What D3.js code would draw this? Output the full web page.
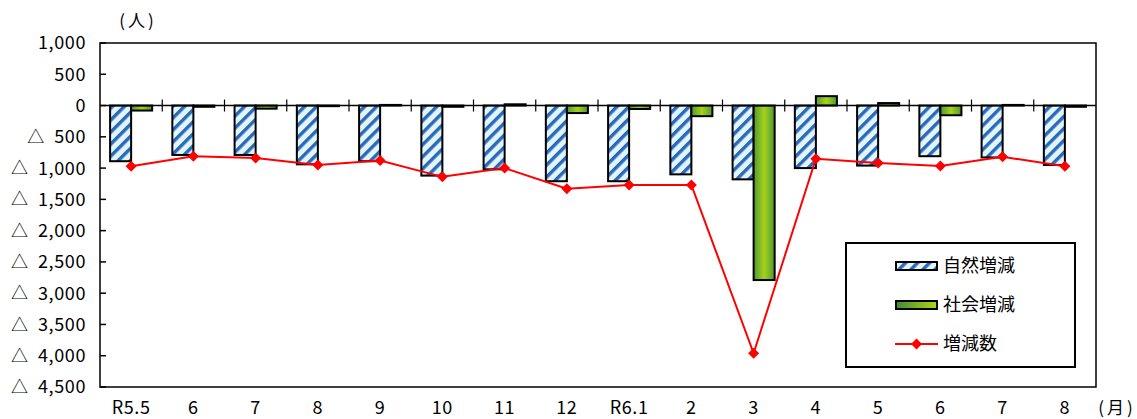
<!DOCTYPE html>
<html>
<head>
<meta charset="utf-8">
<script src="https://cdn.jsdelivr.net/npm/d3@7"></script>
<style>
  body { margin: 0; background: #fff; }
  text { font-family: "Noto Sans CJK JP", "Noto Sans", sans-serif; fill: #000; }
</style>
</head>
<body>
<svg id="chart" width="1137" height="419"></svg>
<script>
// month labels (x axis)
const categories = ["R5.5", "6", "7", "8", "9", "10", "11", "12", "R6.1", "2", "3", "4", "5", "6", "7", "8"];
// 自然増減
const natural = [-890, -790, -790, -940, -890, -1120, -1020, -1210, -1210, -1100, -1180, -1000, -960, -810, -830, -950];
// 社会増減
const social = [-80, -20, -50, -10, 10, -20, 20, -120, -55, -170, -2790, 150, 40, -155, 10, -20];
// 増減数
const total = [-970, -810, -840, -950, -880, -1140, -1000, -1330, -1270, -1270, -3960, -850, -920, -965, -820, -970];
const yTicks = [1000, 500, 0, -500, -1000, -1500, -2000, -2500, -3000, -3500, -4000, -4500];
const legendNames = ["自然増減", "社会増減", "増減数"];

const svg = d3.select("#chart");
const pLeft = 100, pRight = 1096, pTop = 43, pBottom = 387;

const x = d3.scaleBand()
  .domain(d3.range(categories.length))
  .range([pLeft, pRight])
  .padding(0);

const inner = d3.scaleBand()
  .domain(["natural", "social"])
  .range([0, x.bandwidth()])
  .paddingInner(0)
  .paddingOuter(0.48);

const y = d3.scaleLinear().domain([-4500, 1000]).range([pBottom, pTop]);

// patterns / gradients
const defs = svg.append("defs");
const pat = defs.append("pattern")
  .attr("id", "stripe")
  .attr("patternUnits", "userSpaceOnUse")
  .attr("width", 8.5)
  .attr("height", 8.5)
  .attr("patternTransform", "rotate(45)");
pat.append("rect").attr("width", 8.5).attr("height", 8.5).attr("fill", "#e2f5fc");
pat.append("rect").attr("x", 0).attr("width", 3.4).attr("height", 8.5).attr("fill", "#2a69b8");

const grad = defs.append("linearGradient")
  .attr("id", "green")
  .attr("x1", "0%").attr("x2", "100%").attr("y1", "0%").attr("y2", "0%");
grad.append("stop").attr("offset", "0%").attr("stop-color", "#4f9a33");
grad.append("stop").attr("offset", "50%").attr("stop-color", "#a7d11c");
grad.append("stop").attr("offset", "100%").attr("stop-color", "#4f9a33");

const gradL = defs.append("linearGradient")
  .attr("id", "greenLegend")
  .attr("x1", "0%").attr("x2", "100%").attr("y1", "0%").attr("y2", "0%");
gradL.append("stop").attr("offset", "0%").attr("stop-color", "#3f8a35");
gradL.append("stop").attr("offset", "100%").attr("stop-color", "#b2d615");

// frame
svg.append("rect")
  .attr("x", pLeft).attr("y", pTop)
  .attr("width", pRight - pLeft).attr("height", pBottom - pTop)
  .attr("fill", "none").attr("stroke", "#000").attr("stroke-width", 1.5);

// y ticks + labels (triangle drawn apart from the number, like the original)
const fmt = d3.format(",");
yTicks.forEach(v => {
  svg.append("line")
    .attr("x1", pLeft).attr("x2", pLeft + 6)
    .attr("y1", y(v)).attr("y2", y(v))
    .attr("stroke", "#000").attr("stroke-width", 1.5);
  const num = svg.append("text")
    .attr("x", 86).attr("y", y(v))
    .attr("dy", "0.36em")
    .attr("text-anchor", "end")
    .attr("font-size", 18)
    .attr("letter-spacing", 0.6)
    .text(fmt(Math.abs(v)));
  if (v < 0) {
    const w = num.node().getComputedTextLength();
    svg.append("text")
      .attr("x", 86 - w - 10).attr("y", y(v))
      .attr("dy", "0.36em")
      .attr("text-anchor", "end")
      .attr("font-size", 17)
      .text("△");
  }
});

// bars
const g = svg.append("g");
categories.forEach((c, i) => {
  const x0 = x(i);
  g.append("rect")
    .attr("x", x0 + inner("natural"))
    .attr("y", y(Math.max(0, natural[i])))
    .attr("width", inner.bandwidth())
    .attr("height", Math.abs(y(natural[i]) - y(0)))
    .attr("fill", "url(#stripe)")
    .attr("stroke", "#000").attr("stroke-width", 2);
  g.append("rect")
    .attr("x", x0 + inner("social"))
    .attr("y", y(Math.max(0, social[i])))
    .attr("width", inner.bandwidth())
    .attr("height", Math.abs(y(social[i]) - y(0)))
    .attr("fill", "url(#green)")
    .attr("stroke", "#000").attr("stroke-width", 2);
});

// zero line with category ticks
svg.append("line")
  .attr("x1", pLeft).attr("x2", pRight)
  .attr("y1", y(0)).attr("y2", y(0))
  .attr("stroke", "#000").attr("stroke-width", 1.5);
for (let i = 1; i < categories.length; i++) {
  svg.append("line")
    .attr("x1", x(i)).attr("x2", x(i))
    .attr("y1", y(0) - 6).attr("y2", y(0) + 6)
    .attr("stroke", "#000").attr("stroke-width", 1.2);
}

// total line
const cx = i => x(i) + x.bandwidth() / 2;
const line = d3.line().x((d, i) => cx(i)).y(d => y(d));
svg.append("path")
  .datum(total)
  .attr("d", line)
  .attr("fill", "none")
  .attr("stroke", "#ff0000")
  .attr("stroke-width", 2);

const diamond = "M0,-5.5L5.5,0L0,5.5L-5.5,0Z";
svg.selectAll("path.dot")
  .data(total)
  .enter()
  .append("path")
  .attr("class", "dot")
  .attr("d", diamond)
  .attr("transform", (d, i) => `translate(${cx(i)},${y(d)})`)
  .attr("fill", "#ff0000");

// x labels
svg.selectAll("text.xl")
  .data(categories)
  .enter()
  .append("text")
  .attr("class", "xl")
  .attr("x", (d, i) => cx(i))
  .attr("y", 414)
  .attr("text-anchor", "middle")
  .attr("font-size", 18)
  .attr("letter-spacing", 0.6)
  .text(d => d);

// unit labels
svg.append("text").attr("x", 138).attr("y", 27).attr("text-anchor", "middle")
  .attr("font-size", 17).attr("letter-spacing", 3).text("(人)");
svg.append("text").attr("x", 1117).attr("y", 414).attr("text-anchor", "middle")
  .attr("font-size", 17).attr("letter-spacing", 3).text("(月)");

// legend
const lg = svg.append("g");
lg.append("rect")
  .attr("x", 846).attr("y", 243)
  .attr("width", 229).attr("height", 124)
  .attr("fill", "#fff").attr("stroke", "#000").attr("stroke-width", 2);
const rows = [266, 305, 344];
lg.append("rect").attr("x", 896).attr("y", rows[0] - 4).attr("width", 41).attr("height", 8)
  .attr("fill", "url(#stripe)").attr("stroke", "#000").attr("stroke-width", 2);
lg.append("rect").attr("x", 896).attr("y", rows[1] - 4).attr("width", 41).attr("height", 8)
  .attr("fill", "url(#greenLegend)").attr("stroke", "#000").attr("stroke-width", 2);
lg.append("line").attr("x1", 895).attr("x2", 938).attr("y1", rows[2]).attr("y2", rows[2])
  .attr("stroke", "#ff0000").attr("stroke-width", 2);
lg.append("path").attr("d", diamond).attr("transform", `translate(916.5,${rows[2]})`)
  .attr("fill", "#ff0000");
legendNames.forEach((n, i) => {
  lg.append("text")
    .attr("x", 943).attr("y", rows[i])
    .attr("dy", "0.36em")
    .attr("font-size", 18)
    .text(n);
});
</script>
</body>
</html>
